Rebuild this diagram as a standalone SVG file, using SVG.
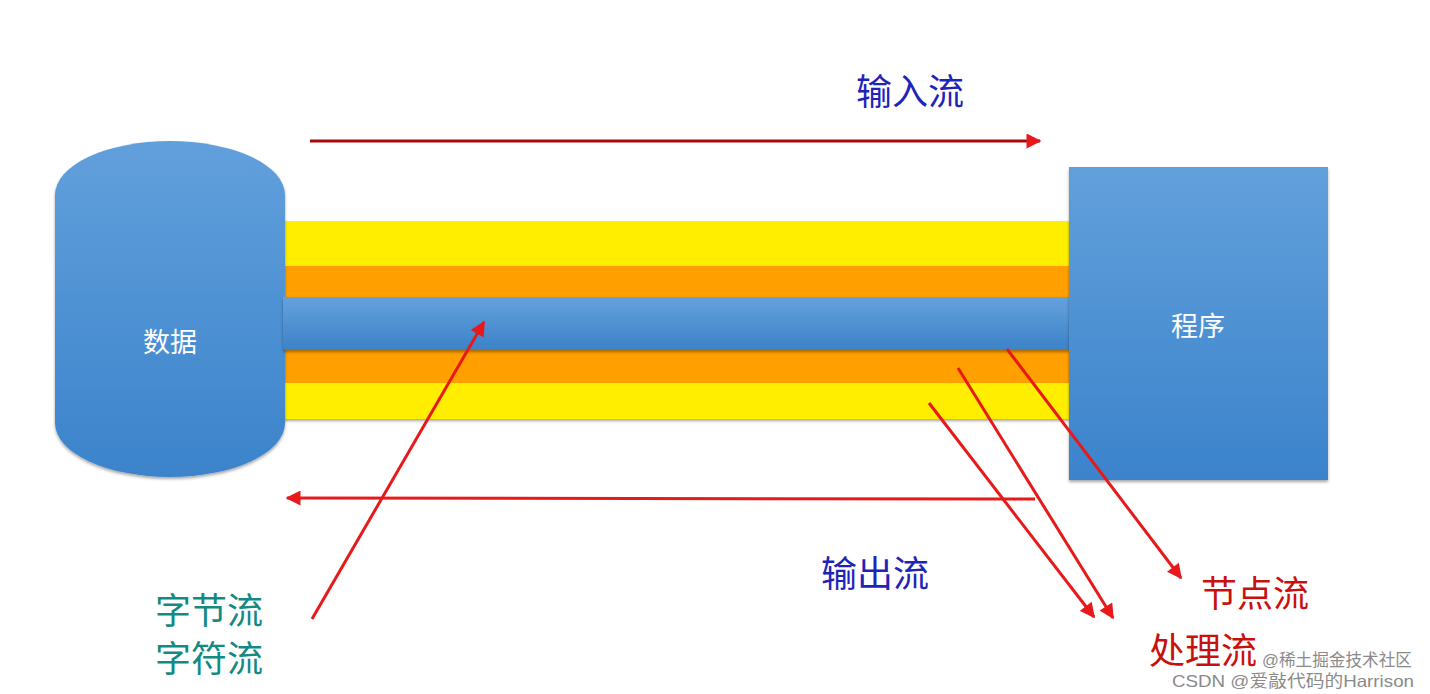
<svg xmlns="http://www.w3.org/2000/svg" width="1430" height="694" viewBox="0 0 1430 694">
<style>
.cjk{font-family:"Noto Sans CJK SC","Noto Sans",sans-serif;}
.lbl{font-size:36px;}
.white{fill:#ffffff;font-size:27px;}
.blue{fill:#1f24b8;}
.red{fill:#c8100e;}
.teal{fill:#138a82;}
.wm{font-family:"Liberation Sans","Noto Sans CJK SC",sans-serif;font-size:16.5px;fill:#8a8a8a;}
.arr{stroke:#e8191a;stroke-width:3;fill:none;marker-end:url(#head);}
</style>
<defs>
<linearGradient id="gBlue" x1="0" y1="0" x2="0" y2="1">
<stop offset="0" stop-color="#62a0dc"/>
<stop offset="1" stop-color="#3b83cb"/>
</linearGradient>
<linearGradient id="gBar" x1="0" y1="0" x2="0" y2="1">
<stop offset="0" stop-color="#65a2dd"/>
<stop offset="1" stop-color="#3c82c8"/>
</linearGradient>
<filter id="sh" x="-5%" y="-5%" width="110%" height="120%">
<feDropShadow dx="0" dy="2" stdDeviation="1.5" flood-color="#000" flood-opacity="0.35"/>
</filter>
<marker id="head" viewBox="0 0 10 10" refX="9" refY="5" markerWidth="5.5" markerHeight="5" orient="auto" markerUnits="strokeWidth">
<path d="M0,0 L10,5 L0,10 z" fill="#e8191a"/>
</marker>
</defs>
<rect width="1430" height="694" fill="#ffffff"/>

<g id="bands">
<rect x="280" y="221" width="790" height="45" fill="#ffee00" filter="url(#sh)"/>
<rect x="280" y="266" width="790" height="31" fill="#ff9f00" filter="url(#sh)"/>
<rect x="280" y="350" width="790" height="33" fill="#ff9f00" filter="url(#sh)"/>
<rect x="280" y="383" width="790" height="36" fill="#ffee00" filter="url(#sh)"/>
</g>

<g id="data">
<path d="M55,195 A115,54 0 0 1 285,195 L285,423 A115,54 0 0 1 55,423 Z" fill="url(#gBlue)" filter="url(#sh)"/>
<text class="cjk white" x="170" y="340" text-anchor="middle" dominant-baseline="central">数据</text>
</g>

<g id="bar">
<rect x="283" y="297" width="787" height="53" fill="url(#gBar)" filter="url(#sh)"/>
</g>

<g id="program">
<rect x="1069" y="167" width="259" height="313" fill="url(#gBlue)" filter="url(#sh)"/>
<text class="cjk white" x="1198" y="324" text-anchor="middle" dominant-baseline="central">程序</text>
</g>

<g id="connectors">
<line x1="310" y1="141" x2="1040" y2="141" stroke="#a30a0a" stroke-width="3" marker-end="url(#head)"/>
<line class="arr" x1="1035" y1="499" x2="287" y2="498"/>
<line class="arr" x1="312" y1="619" x2="484" y2="322"/>
<line class="arr" x1="929" y1="403" x2="1094" y2="617"/>
<line class="arr" x1="958" y1="368" x2="1113" y2="618"/>
<line class="arr" x1="1007" y1="349" x2="1181" y2="578"/>
</g>

<g id="labels">
<text class="cjk lbl blue" x="910" y="89" text-anchor="middle" dominant-baseline="central">输入流</text>
<text class="cjk lbl blue" x="875" y="571" text-anchor="middle" dominant-baseline="central">输出流</text>
<text class="cjk lbl teal" x="209" y="608" text-anchor="middle" dominant-baseline="central" font-size="35">字节流</text>
<text class="cjk lbl teal" x="209" y="656" text-anchor="middle" dominant-baseline="central" font-size="35">字符流</text>
<text class="cjk lbl red" x="1255" y="591" text-anchor="middle" dominant-baseline="central">节点流</text>
<text class="cjk lbl red" x="1203" y="648" text-anchor="middle" dominant-baseline="central">处理流</text>
</g>

<g id="watermark">
<text class="wm" x="1262" y="666" textLength="150" lengthAdjust="spacingAndGlyphs">@稀土掘金技术社区</text>
<text class="wm" x="1172" y="687" textLength="242" lengthAdjust="spacingAndGlyphs">CSDN @爱敲代码的Harrison</text>
</g>
</svg>
